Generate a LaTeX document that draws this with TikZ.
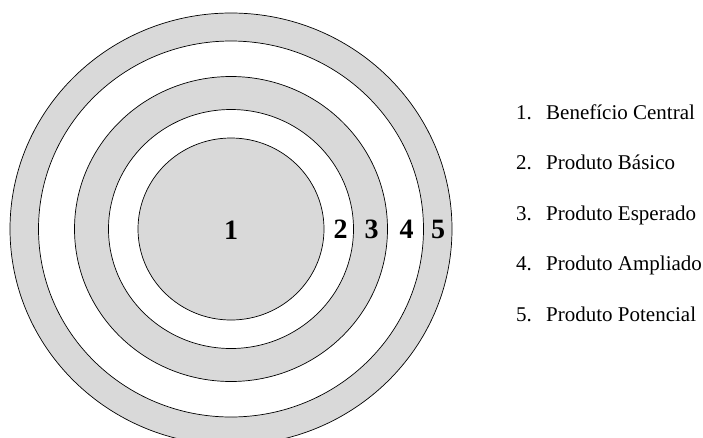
\documentclass[tikz,border=0pt]{standalone}
\usepackage{fontspec}
\setmainfont{Liberation Serif}
\begin{document}
\begin{tikzpicture}[x=1pt,y=-1pt,
  ring/.style={draw=black,line width=0.7pt},
  grayring/.style={ring,fill=ringgray},
  whitering/.style={ring,fill=white},
  level/.style={font=\fontsize{28}{30}\selectfont\bfseries,inner sep=0pt},
  item/.style={font=\fontsize{21}{24}\selectfont,anchor=base west,inner sep=0pt}]
\definecolor{ringgray}{HTML}{D9D9D9}
\useasboundingbox (0,0) rectangle (703,437);
\clip (0,0) rectangle (703,437);
% concentric product levels, outermost first
\coordinate (c) at (231,229);
\draw[grayring]  (c) ellipse [x radius=221,   y radius=216];
\draw[whitering] (c) ellipse [x radius=192.5, y radius=188];
\draw[grayring]  (c) ellipse [x radius=156.5, y radius=152.5];
\draw[whitering] (c) ellipse [x radius=122.5, y radius=119.5];
\draw[grayring]  (c) ellipse [x radius=93,    y radius=91];
% level numbers
\node[level] (n1) at (231,230) {1};
\node[level] (n2) at (340.5,229) {2};
\node[level] (n3) at (371.5,229) {3};
\node[level] (n4) at (406.5,229) {4};
\node[level] (n5) at (438,229) {5};
% legend
\foreach \i/\t [count=\k from 0] in {1/Benefício Central,2/Produto Básico,3/Produto Esperado,4/Produto Ampliado,5/Produto Potencial}{
  \node[item] (num\i) at (516,119+50.5*\k) {\i.};
  \node[item] (txt\i) at (546,119+50.5*\k) {\t};
}
\end{tikzpicture}
\end{document}
